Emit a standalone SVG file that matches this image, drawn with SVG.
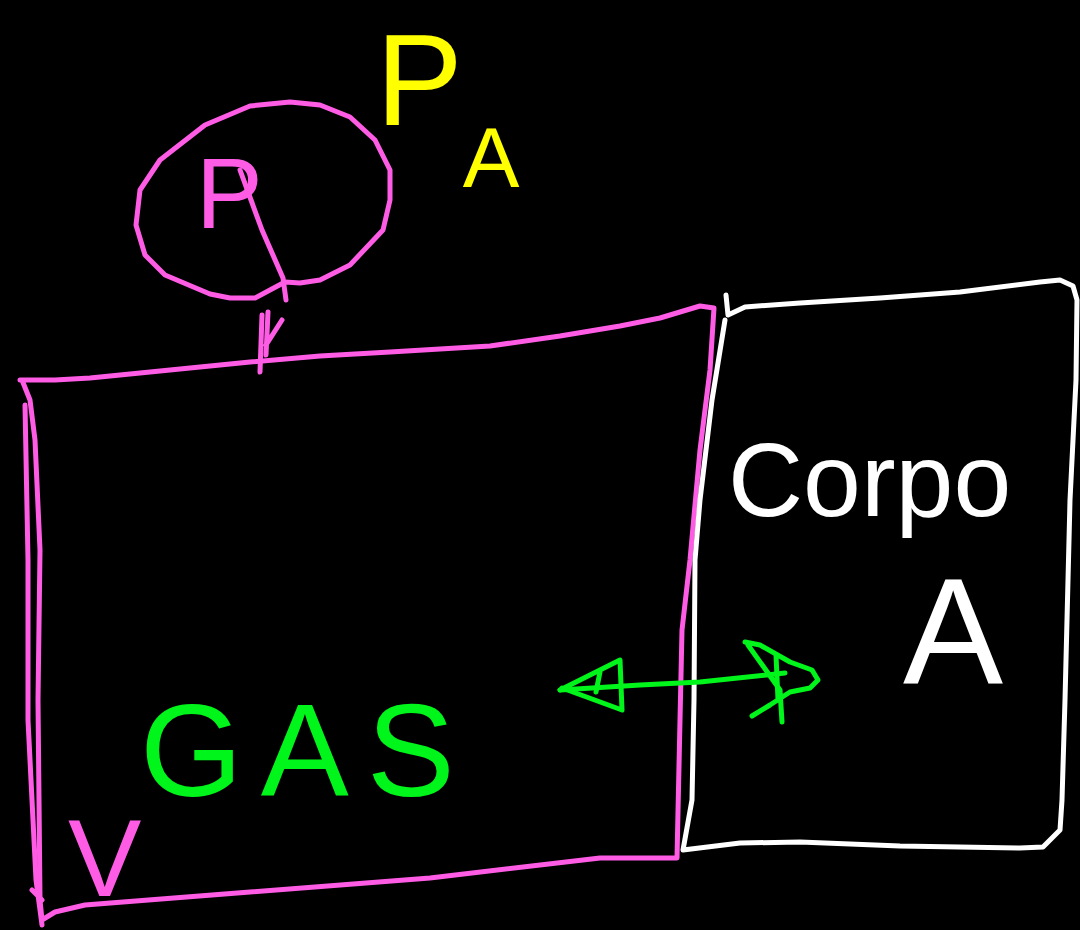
<svg xmlns="http://www.w3.org/2000/svg" width="1080" height="930" viewBox="0 0 1080 930">
<style>
.s{fill:none;stroke-linecap:round;stroke-linejoin:round;stroke-width:5}
.m{stroke:#ff5ce6}.w{stroke:#ffffff}.g{stroke:#00f51a}.y{stroke:#ffff00}
.t{font-family:"Liberation Sans",Arial,sans-serif}
</style>
<rect width="1080" height="930" fill="#000"/>
<g id="gas-box">
<path class="s m" d="M20,380 L55,380 L90,378 L170,370 L250,362 L320,356 L390,352 L490,346 L560,336 L620,326 L660,318 L700,306 L714,308 L710,370 L700,450 L690,560 L682,630 L680,720 L677,858 L600,858 L430,878 L250,892 L85,905 L55,912 L42,920 L40,900 L38,700 L40,550 L35,440 L30,400 L22,380"/>
<path class="s m" d="M25,405 L28,560 L28,720 L36,880 L42,925 M32,890 L42,900"/>
<text class="t" x="140" y="796" font-size="132" letter-spacing="18" fill="#00f51a">GAS</text>
<text class="t" x="68" y="896" font-size="110" fill="#ff5ce6">V</text>
</g>
<g id="corpo-a">
<path class="s w" d="M726,295 L728,315 L745,307 L800,303 L880,298 L960,292 L1040,282 L1060,280 L1073,286 L1077,300 L1076,380 L1070,500 L1065,700 L1062,800 L1060,830 L1043,847 L1020,848 L900,846 L800,842 L740,843 L683,850 L692,800 L694,700 L695,560 L700,500 L712,400 L725,320"/>
<text class="t" x="728" y="516" font-size="104" fill="#fff">Corpo</text>
<text class="t" x="903" y="683" font-size="150" fill="#fff">A</text>
</g>
<g id="pressure">
<path class="s m" d="M255,298 L230,298 L210,294 L165,275 L145,255 L136,225 L140,190 L160,160 L205,125 L250,106 L290,102 L320,105 L350,117 L375,140 L390,170 L390,200 L383,230 L350,265 L320,280 L300,283 L285,282 L270,290 L255,298"/>
<text class="t" x="196" y="228" font-size="100" fill="#ff5ce6">P</text>
</g>
<g id="pa-label">
<text class="t" x="376" y="125" font-size="130" fill="#ffff00">P<tspan font-size="85" dy="62">A</tspan></text>
</g>
<g id="connectors">
<path class="s m" d="M240,170 L262,230 L283,278 L286,300"/>
<path class="s m" d="M262,315 L260,372 M268,312 L266,355 M266,345 L282,320"/>
<path class="s g" d="M560,690 L640,685 L700,682 L785,673"/>
<path class="s g" d="M560,690 L620,660 L622,710 L562,688 M600,672 L596,692"/>
<path class="s g" d="M745,642 L760,645 L790,662 L812,670 L818,680 L810,688 L790,692 L770,705 L752,716 M748,645 L780,690 L782,722 M776,655 L778,700"/>
</g>
</svg>
